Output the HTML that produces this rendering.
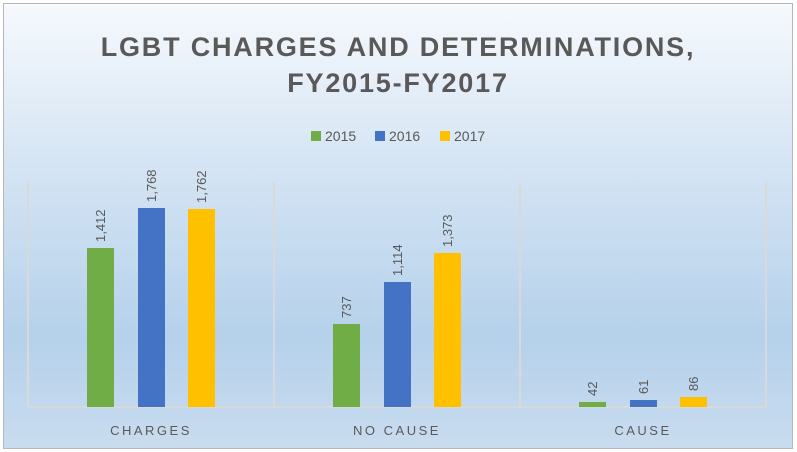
<!DOCTYPE html>
<html><head><style>
body{margin:0;background:#fff;}
</style></head><body>
<svg width="797" height="452" xmlns="http://www.w3.org/2000/svg" style="display:block">
<defs><linearGradient id="g" x1="0" y1="0" x2="0" y2="1">
<stop offset="0" stop-color="#f6f9fd"/><stop offset="0.35" stop-color="#d6e5f4"/><stop offset="0.75" stop-color="#b5d1eb"/><stop offset="1" stop-color="#c9dcef"/></linearGradient></defs>
<rect x="3.5" y="3.5" width="789" height="445" fill="url(#g)" stroke="#b8b8b8"/>
<g font-family="'Liberation Sans',sans-serif" fill="#595959">
<text x="398" y="56" text-anchor="middle" font-size="27" font-weight="bold" letter-spacing="1.8">LGBT CHARGES AND DETERMINATIONS,</text>
<text x="398" y="92" text-anchor="middle" font-size="27" font-weight="bold" letter-spacing="1.8">FY2015-FY2017</text>
<rect x="311" y="131" width="10" height="10" fill="#70ad47"/><text x="325" y="141" font-size="14">2015</text>
<rect x="375" y="131" width="10" height="10" fill="#4472c4"/><text x="389" y="141" font-size="14">2016</text>
<rect x="440" y="131" width="10" height="10" fill="#ffc000"/><text x="454" y="141" font-size="14">2017</text>
</g>
<g stroke="#d9d9d9" stroke-width="2">
<line x1="28" y1="182" x2="28" y2="407"/><line x1="274" y1="182" x2="274" y2="407"/>
<line x1="520" y1="182" x2="520" y2="407"/><line x1="766" y1="182" x2="766" y2="407"/>
<line x1="28" y1="407" x2="766" y2="407"/>
</g>
<g>
<rect x="87" y="248" width="27" height="159" fill="#70ad47"/>
<rect x="138" y="208" width="27" height="199" fill="#4472c4"/>
<rect x="188" y="209" width="27" height="198" fill="#ffc000"/>
<rect x="333" y="324" width="27" height="83" fill="#70ad47"/>
<rect x="384" y="282" width="27" height="125" fill="#4472c4"/>
<rect x="434" y="253" width="27" height="154" fill="#ffc000"/>
<rect x="579" y="402" width="27" height="5" fill="#70ad47"/>
<rect x="630" y="400" width="27" height="7" fill="#4472c4"/>
<rect x="680" y="397" width="27" height="10" fill="#ffc000"/>
</g>
<g font-family="'Liberation Sans',sans-serif" font-size="13" fill="#595959">
<text transform="translate(105,242) rotate(-90)">1,412</text>
<text transform="translate(156,202) rotate(-90)">1,768</text>
<text transform="translate(206,203) rotate(-90)">1,762</text>
<text transform="translate(351,318) rotate(-90)">737</text>
<text transform="translate(402,276) rotate(-90)">1,114</text>
<text transform="translate(452,247) rotate(-90)">1,373</text>
<text transform="translate(597,396) rotate(-90)">42</text>
<text transform="translate(648,394) rotate(-90)">61</text>
<text transform="translate(698,391) rotate(-90)">86</text>
</g>
<g font-family="'Liberation Sans',sans-serif" font-size="13" fill="#595959" text-anchor="middle" letter-spacing="2.5">
<text x="151" y="435">CHARGES</text>
<text x="397" y="435">NO CAUSE</text>
<text x="643" y="435">CAUSE</text>
</g>
</svg>
</body></html>
